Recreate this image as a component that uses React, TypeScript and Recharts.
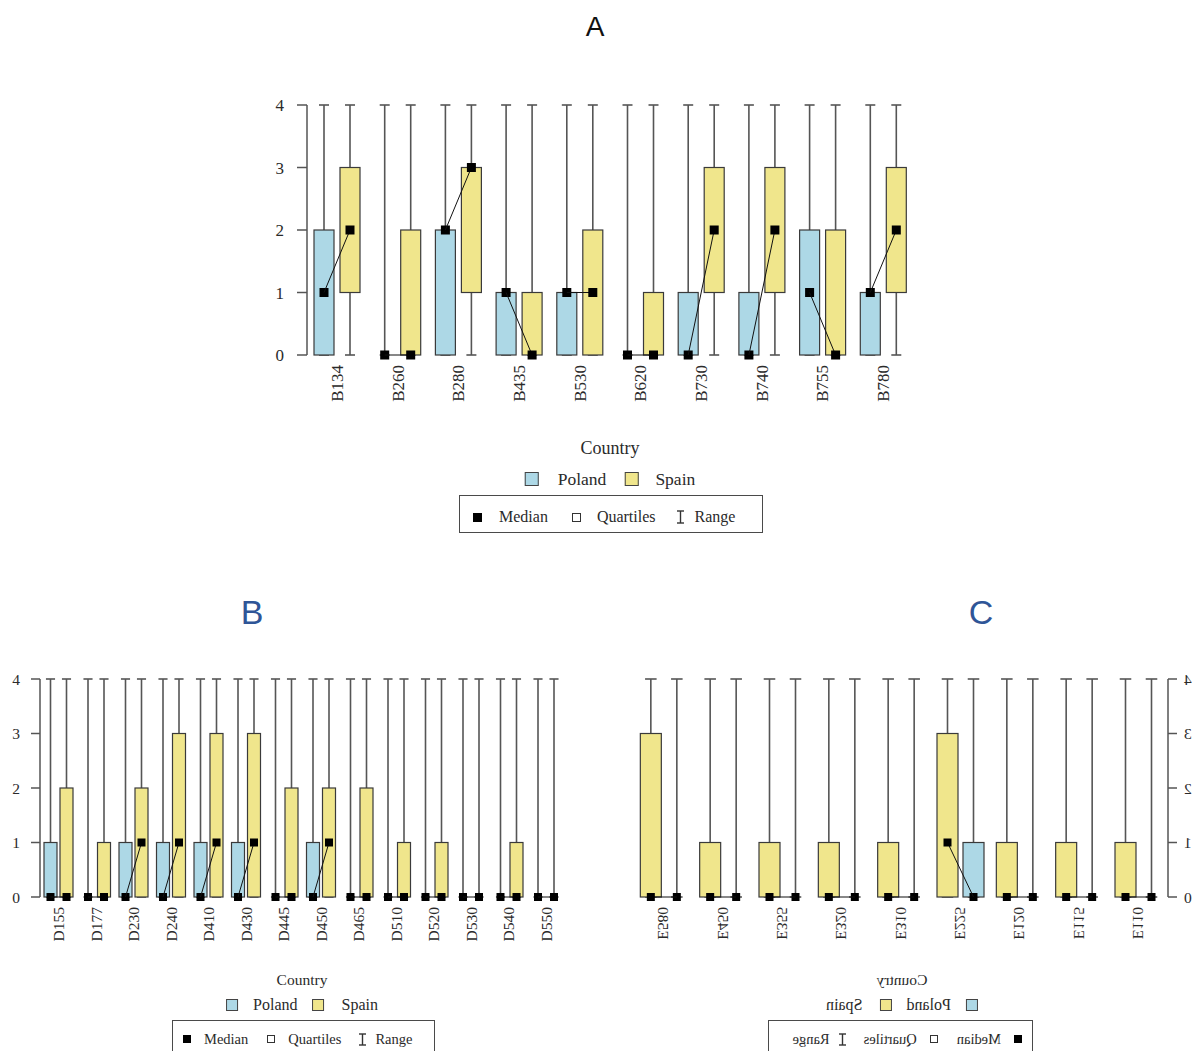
import React from 'react';
import { BarChart, Bar, XAxis, YAxis } from 'recharts';

// panel A
const aGroups = ['B134', 'B260', 'B280', 'B435', 'B530', 'B620', 'B730', 'B740', 'B755', 'B780'];
const aPolandMin = [0, 0, 0, 0, 0, 0, 0, 0, 0, 0];
const aPolandQ1 = [0, 0, 0, 0, 0, 0, 0, 0, 0, 0];
const aPolandMedian = [1, 0, 2, 1, 1, 0, 0, 0, 1, 1];
const aPolandQ3 = [2, 0, 2, 1, 1, 0, 1, 1, 2, 1];
const aPolandMax = [4, 4, 4, 4, 4, 4, 4, 4, 4, 4];
const aSpainMin = [0, 0, 0, 0, 0, 0, 0, 0, 0, 0];
const aSpainQ1 = [1, 0, 1, 0, 0, 0, 1, 1, 0, 1];
const aSpainMedian = [2, 0, 3, 0, 1, 0, 2, 2, 0, 2];
const aSpainQ3 = [3, 2, 3, 1, 2, 1, 3, 3, 2, 3];
const aSpainMax = [4, 4, 4, 4, 4, 4, 4, 4, 4, 4];

// panel B
const bGroups = ['D155', 'D177', 'D230', 'D240', 'D410', 'D430', 'D445', 'D450', 'D465', 'D510', 'D520', 'D530', 'D540', 'D550'];
const bPolandMin = [0, 0, 0, 0, 0, 0, 0, 0, 0, 0, 0, 0, 0, 0];
const bPolandQ1 = [0, 0, 0, 0, 0, 0, 0, 0, 0, 0, 0, 0, 0, 0];
const bPolandMedian = [0, 0, 0, 0, 0, 0, 0, 0, 0, 0, 0, 0, 0, 0];
const bPolandQ3 = [1, 0, 1, 1, 1, 1, 0, 1, 0, 0, 0, 0, 0, 0];
const bPolandMax = [4, 4, 4, 4, 4, 4, 4, 4, 4, 4, 4, 4, 4, 4];
const bSpainMin = [0, 0, 0, 0, 0, 0, 0, 0, 0, 0, 0, 0, 0, 0];
const bSpainQ1 = [0, 0, 0, 0, 0, 0, 0, 0, 0, 0, 0, 0, 0, 0];
const bSpainMedian = [0, 0, 1, 1, 1, 1, 0, 1, 0, 0, 0, 0, 0, 0];
const bSpainQ3 = [2, 1, 2, 3, 3, 3, 2, 2, 2, 1, 1, 0, 1, 0];
const bSpainMax = [4, 4, 4, 4, 4, 4, 4, 4, 4, 4, 4, 4, 4, 4];

// panel C (drawn then mirrored, like the source figure)
const cGroups = ['E110', 'E115', 'E120', 'E225', 'E310', 'E320', 'E355', 'E450', 'E580'];
const cPolandMin = [0, 0, 0, 0, 0, 0, 0, 0, 0];
const cPolandQ1 = [0, 0, 0, 0, 0, 0, 0, 0, 0];
const cPolandMedian = [0, 0, 0, 0, 0, 0, 0, 0, 0];
const cPolandQ3 = [0, 0, 0, 1, 0, 0, 0, 0, 0];
const cPolandMax = [4, 4, 4, 4, 4, 4, 4, 4, 4];
const cSpainMin = [0, 0, 0, 0, 0, 0, 0, 0, 0];
const cSpainQ1 = [0, 0, 0, 0, 0, 0, 0, 0, 0];
const cSpainMedian = [0, 0, 0, 1, 0, 0, 0, 0, 0];
const cSpainQ3 = [1, 1, 1, 3, 1, 1, 1, 1, 3];
const cSpainMax = [4, 4, 4, 4, 4, 4, 4, 4, 4];

const yTicks = [0, 1, 2, 3, 4];

const POLAND = '#ADD8E6';
const SPAIN = '#F0E68C';
const LINE = '#555';
const TEXT = '#2a2a2a';
const SERIF = "'Liberation Serif', 'Times New Roman', serif";
const SANS = "'Liberation Sans', Arial, sans-serif";

const buildRows = (groups: string[], p: number[][], s: number[][]) =>
  groups.map((name, i) => ({
    name,
    poland: { min: p[0][i], q1: p[1][i], med: p[2][i], q3: p[3][i], max: p[4][i] },
    spain: { min: s[0][i], q1: s[1][i], med: s[2][i], q3: s[3][i], max: s[4][i] },
  }));

const rowsA = buildRows(aGroups, [aPolandMin, aPolandQ1, aPolandMedian, aPolandQ3, aPolandMax], [aSpainMin, aSpainQ1, aSpainMedian, aSpainQ3, aSpainMax]);
const rowsB = buildRows(bGroups, [bPolandMin, bPolandQ1, bPolandMedian, bPolandQ3, bPolandMax], [bSpainMin, bSpainQ1, bSpainMedian, bSpainQ3, bSpainMax]);
const rowsC = buildRows(cGroups, [cPolandMin, cPolandQ1, cPolandMedian, cPolandQ3, cPolandMax], [cSpainMin, cSpainQ1, cSpainMedian, cSpainQ3, cSpainMax]);

// box, whisker and median drawn inside the bar that spans min..max
const BoxShape = (props: any) => {
  const { x, y, width, height, payload, fill, series, g } = props;
  const d = payload[series];
  const top = Math.min(y, y + height);
  const h = Math.abs(height);
  const py = (v: number) => top + (h * (d.max - v)) / (d.max - d.min);
  const cx = x + width / 2;
  const cap = (width * g.capRatio) / 2;
  const m = g.medSize;
  const pcx = cx - (g.barSize + g.barGap);
  return (
    <g>
      <line x1={cx} x2={cx} y1={py(d.max)} y2={py(d.min)} stroke={LINE} strokeWidth={1.6} />
      <line x1={cx - cap} x2={cx + cap} y1={py(d.max)} y2={py(d.max)} stroke={LINE} strokeWidth={1.6} />
      <line x1={cx - cap} x2={cx + cap} y1={py(d.min)} y2={py(d.min)} stroke={LINE} strokeWidth={1.6} />
      {d.q3 > d.q1 && (
        <rect x={x} y={py(d.q3)} width={width} height={py(d.q1) - py(d.q3)} fill={fill} stroke="#3a3a3a" strokeWidth={1.2} />
      )}
      {series === 'spain' && (
        <line x1={pcx} y1={py(payload.poland.med)} x2={cx} y2={py(d.med)} stroke="#111" strokeWidth={1} />
      )}
      <rect x={cx - m / 2} y={py(d.med) - m / 2} width={m} height={m} fill="#000" />
    </g>
  );
};

const RotTick = ({ x, y, payload, fs }: any) => (
  <text
    transform={`translate(${x},${y}) rotate(-90)`}
    textAnchor="end"
    dominantBaseline="central"
    fontFamily={SERIF}
    fontSize={fs}
    fill={TEXT}
  >
    {payload.value}
  </text>
);

const BoxChart = ({ rows, g }: any) => (
  <div style={{ position: 'absolute', left: g.left, top: g.top }}>
    <BarChart width={g.width} height={g.height} data={rows} margin={g.margin} barSize={g.barSize} barGap={g.barGap}>
      <XAxis
        dataKey="name"
        axisLine={false}
        tickLine={false}
        tickSize={0}
        tickMargin={g.xTickMargin}
        height={g.xAxisHeight}
        interval={0}
        tick={(p: any) => <RotTick {...p} fs={g.tickFont} />}
      />
      <YAxis
        type="number"
        domain={[0, 4]}
        ticks={yTicks}
        interval={0}
        width={g.yAxisWidth}
        tickSize={g.yTickSize}
        tickMargin={g.yTickMargin}
        axisLine={{ stroke: LINE, strokeWidth: 1.5 }}
        tickLine={{ stroke: LINE, strokeWidth: 1.5 }}
        tick={{ fontFamily: SERIF, fontSize: g.tickFont, fill: TEXT }}
      />
      <Bar
        dataKey={(d: any) => [d.poland.min, d.poland.max]}
        fill={POLAND}
        isAnimationActive={false}
        shape={(p: any) => <BoxShape {...p} series="poland" g={g} />}
      />
      <Bar
        dataKey={(d: any) => [d.spain.min, d.spain.max]}
        fill={SPAIN}
        isAnimationActive={false}
        shape={(p: any) => <BoxShape {...p} series="spain" g={g} />}
      />
    </BarChart>
  </div>
);

const Whisker = ({ w, h }: any) => (
  <svg width={w} height={h} style={{ display: 'block' }}>
    <line x1={w / 2} x2={w / 2} y1={1} y2={h - 1} stroke="#333" strokeWidth={1.4} />
    <line x1={0} x2={w} y1={1} y2={1} stroke="#333" strokeWidth={1.4} />
    <line x1={0} x2={w} y1={h - 1} y2={h - 1} stroke="#333" strokeWidth={1.4} />
  </svg>
);

const Swatch = ({ size, color, mr }: any) => (
  <span style={{ display: 'inline-block', width: size, height: size, background: color, border: '1.5px solid #444', boxSizing: 'border-box', marginRight: mr }} />
);

const CountryLegend = ({ l }: any) => (
  <>
    <div style={{ position: 'absolute', left: l.cx, top: l.titleY - 12, transform: 'translateX(-50%)', lineHeight: '24px', fontFamily: SERIF, fontSize: l.titleFont, color: TEXT, whiteSpace: 'nowrap' }}>
      Country
    </div>
    <div style={{ position: 'absolute', left: l.cx, top: l.rowY - 12, height: 24, transform: 'translateX(-50%)', display: 'flex', alignItems: 'center', fontFamily: SERIF, fontSize: l.rowFont, color: TEXT, whiteSpace: 'nowrap' }}>
      <Swatch size={l.sw} color={POLAND} mr={l.swGap} />
      <span style={{ marginRight: l.itemGap }}>Poland</span>
      <Swatch size={l.sw} color={SPAIN} mr={l.swGap2} />
      <span>Spain</span>
    </div>
    <div style={{ position: 'absolute', left: l.boxLeft, top: l.boxTop, width: l.boxWidth, height: l.boxHeight, border: '1.5px solid #4a4a4a', boxSizing: 'border-box', background: '#fff' }}>
      <div style={{ position: 'absolute', left: l.padLeft, top: l.itemsY - l.boxTop - 12, height: 24, display: 'flex', alignItems: 'center', fontFamily: SERIF, fontSize: l.boxFont, color: TEXT, whiteSpace: 'nowrap' }}>
        <span style={{ display: 'inline-block', width: l.mk, height: l.mk, background: '#000', marginRight: l.g1 }} />
        <span style={{ marginRight: l.g2 }}>Median</span>
        <span style={{ display: 'inline-block', width: l.mk, height: l.mk, border: '1.2px solid #333', boxSizing: 'border-box', marginRight: l.g3 }} />
        <span style={{ marginRight: l.g4 }}>Quartiles</span>
        <span style={{ marginRight: l.g5 }}>
          <Whisker w={7} h={l.whH} />
        </span>
        <span>Range</span>
      </div>
    </div>
  </>
);

const geoA = {
  left: 240, top: 90, width: 700, height: 335,
  margin: { top: 15, right: 26, bottom: 0, left: 7 },
  yAxisWidth: 60, xAxisHeight: 70, yTickSize: 10, yTickMargin: 13, xTickMargin: 10,
  barSize: 20, barGap: 6, capRatio: 0.5, medSize: 9, tickFont: 17,
};
const geoB = {
  left: 0, top: 664, width: 590, height: 293,
  margin: { top: 15, right: 25, bottom: 0, left: 6 },
  yAxisWidth: 34, xAxisHeight: 60, yTickSize: 9, yTickMargin: 11, xTickMargin: 10,
  barSize: 13, barGap: 3, capRatio: 0.7, medSize: 8, tickFont: 15.5,
};
const geoC = {
  left: 0, top: 664, width: 590, height: 293,
  margin: { top: 15, right: 28, bottom: 0, left: 0 },
  yAxisWidth: 28, xAxisHeight: 60, yTickSize: 9, yTickMargin: 7, xTickMargin: 10,
  barSize: 21, barGap: 5, capRatio: 0.55, medSize: 8, tickFont: 15.5,
};

const legA = {
  cx: 610, titleY: 448, rowY: 479, titleFont: 18, rowFont: 17.5, sw: 14, swGap: 19, itemGap: 18, swGap2: 17,
  boxLeft: 459, boxTop: 495, boxWidth: 304, boxHeight: 38, padLeft: 13, itemsY: 516, boxFont: 16,
  mk: 9, g1: 17, g2: 24, g3: 16, g4: 21, g5: 11, whH: 14,
};
const legB = {
  cx: 302, titleY: 980, rowY: 1005, titleFont: 15.5, rowFont: 16, sw: 12, swGap: 15, itemGap: 15, swGap2: 17,
  boxLeft: 172, boxTop: 1020, boxWidth: 263, boxHeight: 42, padLeft: 10, itemsY: 1038, boxFont: 14.5,
  mk: 8, g1: 13, g2: 19, g3: 13, g4: 18, g5: 9, whH: 13,
};
const legC = { ...legB, cx: 294, boxLeft: 163, boxWidth: 265 };

const Title = ({ text, x, y, size, color }: any) => (
  <div style={{ position: 'absolute', left: x, top: y - size * 0.6, transform: 'translateX(-50%)', lineHeight: `${size * 1.2}px`, fontFamily: SANS, fontSize: size, color }}>
    {text}
  </div>
);

export default function App() {
  return (
    <div style={{ position: 'absolute', left: 0, top: 0, width: 1196, height: 1051, overflow: 'hidden', background: '#fff' }}>
      <Title text="A" x={595} y={27} size={28} color="#111" />
      <Title text="B" x={252} y={612} size={34} color="#2F5597" />
      <Title text="C" x={981} y={612} size={34} color="#2F5597" />

      <div style={{ position: 'absolute', left: 0, top: 0, width: 1196, height: 1051 }}>
        <BoxChart rows={rowsA} g={geoA} />
        <CountryLegend l={legA} />
      </div>

      <div style={{ position: 'absolute', left: 0, top: 0, width: 596, height: 1051 }}>
        <BoxChart rows={rowsB} g={geoB} />
        <CountryLegend l={legB} />
      </div>

      <div style={{ position: 'absolute', left: 600, top: 0, width: 596, height: 1051, transform: 'scaleX(-1)' }}>
        <BoxChart rows={rowsC} g={geoC} />
        <CountryLegend l={legC} />
      </div>
    </div>
  );
}
